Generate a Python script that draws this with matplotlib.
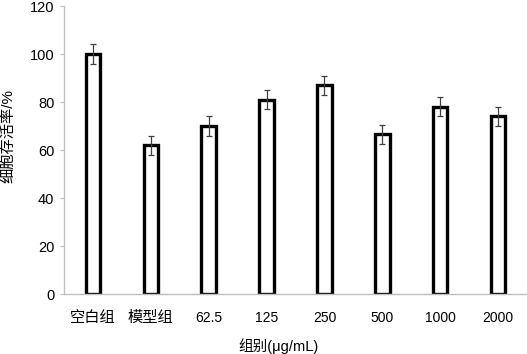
import numpy as np
import matplotlib.pyplot as plt

plt.rcParams['font.family'] = ['Liberation Sans', 'Noto Sans CJK SC', 'DejaVu Sans']

groups = ['空白组', '模型组', '62.5', '125', '250', '500', '1000', '2000']
viability = [100, 62, 70, 81, 87, 66.5, 78, 74]
errors = [4.2, 4, 4.2, 4, 4, 4, 4, 4]

fig = plt.figure(figsize=(5.27, 3.54), dpi=100)
ax = fig.add_axes([64 / 527, 60 / 354, 463 / 527, 288 / 354])

x = np.arange(len(groups))
ax.bar(x, viability, width=0.25, color='white', edgecolor='black', linewidth=2.4, zorder=2)
ax.errorbar(x, viability, yerr=errors, fmt='none', ecolor='#404040', elinewidth=0.9,
            capsize=2.5, capthick=0.9, zorder=3)

ax.set_xlim(-0.5, len(groups) - 0.5)
ax.set_ylim(0, 120)
ax.set_yticks(np.arange(0, 121, 20))
ax.set_xticks(x)
ax.set_xticklabels(groups, fontsize=10)
for lbl in ax.get_xticklabels()[:2]:
    lbl.set_fontsize(11)
ax.tick_params(axis='y', labelsize=10.5, length=3, color='#BFBFBF', pad=4)
ax.tick_params(axis='x', length=0, pad=12)

for s in ['top', 'right']:
    ax.spines[s].set_visible(False)
for s in ['left', 'bottom']:
    ax.spines[s].set_color('#BFBFBF')
    ax.spines[s].set_linewidth(1)

ax.set_ylabel('细胞存活率/%', fontsize=11)
ax.yaxis.set_label_coords(-0.105, 0.55)
ax.set_xlabel('组别(μg/mL)', fontsize=10.5)
ax.xaxis.set_label_coords(0.463, -0.155)

fig.savefig('out.png', dpi=100)
